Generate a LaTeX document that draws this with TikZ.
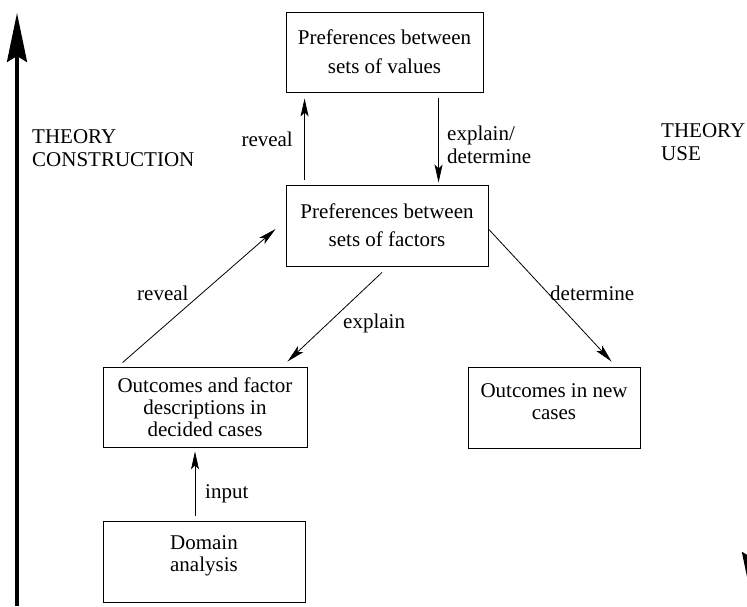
\documentclass[tikz,border=0pt]{standalone}
\usepackage{fontspec}
\setmainfont{Liberation Serif}
\usetikzlibrary{arrows.meta,positioning}

\begin{document}
\begin{tikzpicture}[x=1pt, y=-1pt,
  box/.style={rectangle, draw=black, line width=0.9pt, minimum height=80pt,
    minimum width=#1, align=center, font=\fontsize{21}{22}\selectfont},
  arr/.style={-{Stealth[length=18pt, width=8pt, inset=4pt]}, line width=0.8pt},
  big/.style={-{Stealth[length=49pt, width=20pt, inset=6pt]}, line width=3.5pt},
  lbl/.style={font=\fontsize{21}{23}\selectfont, inner sep=0pt, align=left}
]
\useasboundingbox (0,0) rectangle (747,606);

\node[box=197pt] (vals) at (384.5,52) {Preferences between\\[7pt]sets of values};
\node[box=202pt, minimum height=81pt] (facs) at (387,225.5) {Preferences between\\[6pt]sets of factors};
\node[box=204pt] (decided) at (205,407) {Outcomes and factor\\descriptions in\\decided cases};
\node[box=172pt, minimum height=81pt, text depth=12pt] (newcases) at (554,407.5) {Outcomes in new\\cases};
\node[box=202pt, minimum height=81pt, text depth=16pt] (domain) at (204,561.5) {Domain\\analysis};

\coordinate (cbot) at (17,606);
\coordinate (ctop) at (17,13);
\coordinate (utop) at (752,13);
\coordinate (ubot) at (752,601);
\draw[big] (cbot) -- (ctop);
\draw[big] (utop) -- (ubot);

\draw[arr] ([xshift=19pt, yshift=5pt]facs.north west) -- ([xshift=19pt, yshift=-6pt]vals.south west);
\draw[arr] ([xshift=153pt, yshift=-6pt]vals.south west) -- ([xshift=153pt, yshift=2pt]facs.north west);
\draw[arr] ([xshift=20pt, yshift=4pt]decided.north west) -- ([xshift=-10pt, yshift=-3.5pt]facs.west);
\draw[arr] ([xshift=-5pt, yshift=-6pt]facs.south) -- ([xshift=-20pt, yshift=5pt]decided.north east);
\draw[arr] ([yshift=-3.5pt]facs.east) -- ([xshift=144pt, yshift=5pt]newcases.north west);
\draw[arr] ([xshift=-9pt, yshift=5pt]domain.north) -- ([xshift=-10pt, yshift=-4pt]decided.south);

\node[lbl, anchor=base west] (tcons) at (32,166) {THEORY\\CONSTRUCTION};
\node[lbl, anchor=base west] (tuse) at (661,160) {THEORY\\USE};
\node[lbl, anchor=base east] (rev1) at (293,146) {reveal};
\node[lbl, anchor=base west] (expdet) at (447,163) {explain/\\determine};
\node[lbl, anchor=base west] (rev2) at (137,300) {reveal};
\node[lbl, anchor=base west] (expl) at (343,328) {explain};
\node[lbl, anchor=base west] (det) at (550,300) {determine};
\node[lbl, anchor=base west] (inp) at (205,498) {input};
\end{tikzpicture}
\end{document}
